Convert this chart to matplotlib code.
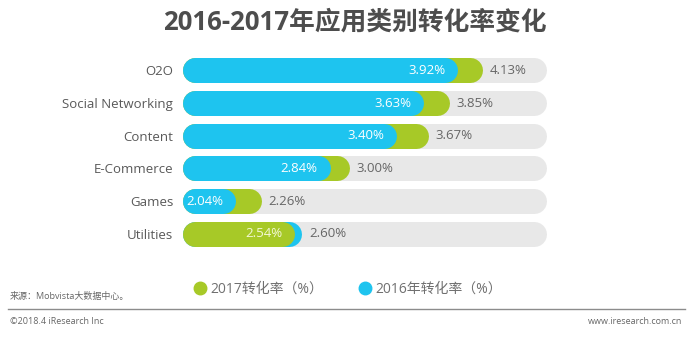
import matplotlib
matplotlib.use('Agg')
import matplotlib.pyplot as plt
from matplotlib.lines import Line2D

plt.rcParams['font.family'] = ['Open Sans', 'Noto Sans CJK SC', 'DejaVu Sans']

categories = ['O2O', 'Social Networking', 'Content', 'E-Commerce', 'Games', 'Utilities']
rate_2016 = [3.92, 3.63, 3.40, 2.84, 2.04, 2.60]
rate_2017 = [4.13, 3.85, 3.67, 3.00, 2.26, 2.54]
legend_labels = ['2017转化率（%）', '2016年转化率（%）']
title = '2016-2017年应用类别转化率变化'

BLUE = '#1ec4ef'
GREEN = '#a7c927'
TRACK = '#e8e8e8'
TEXT = '#666666'

W, H = 700, 342
fig = plt.figure(figsize=(W / 100, H / 100), dpi=100)

# bar area in pixels: x 183..560, rows between y 54 and 250 (from top)
ax = fig.add_axes([183 / W, 1 - 250 / H, (560 - 183) / W, (250 - 54) / H])
bar_start = 1.8
track_end = 4.67
lw = 18  # points, about 25 px thick bars

for i, (a, b) in enumerate(zip(rate_2016, rate_2017)):
    ax.plot([bar_start, track_end], [i, i], color=TRACK, lw=lw,
            solid_capstyle='round', zorder=1)
    # longer bar at the back, shorter one on top
    if b >= a:
        back, front = (b, GREEN), (a, BLUE)
    else:
        back, front = (a, BLUE), (b, GREEN)
    ax.plot([bar_start, back[0]], [i, i], color=back[1], lw=lw,
            solid_capstyle='round', zorder=2)
    ax.plot([bar_start, front[0]], [i, i], color=front[1], lw=lw,
            solid_capstyle='round', zorder=3)
    inner = 'white' if front[1] == BLUE else '#f4f8d8'
    ax.annotate(f'{front[0]:.2f}%', xy=(front[0], i), xytext=(0, 0),
                textcoords='offset points', ha='right', va='center',
                color=inner, fontsize=9.5, zorder=4)
    ax.annotate(f'{back[0]:.2f}%', xy=(back[0], i), xytext=(14, 0),
                textcoords='offset points', ha='left', va='center',
                color=TEXT, fontsize=9.5, zorder=4)

ax.set_xlim(1.698, 4.893)
ax.set_ylim(5.5, -0.5)
ax.set_yticks(range(len(categories)), categories)
ax.tick_params(axis='y', length=0, pad=7, labelsize=9.5, labelcolor='#595959')
ax.set_xticks([])
for s in ax.spines.values():
    s.set_visible(False)
ax.patch.set_alpha(0)

fig.text(355 / W, 1 - 22 / H, title, ha='center', va='center',
         fontsize=18.5, fontweight='bold', color='#4d4d4d')

handles = [Line2D([], [], ls='', marker='o', markersize=9, color=GREEN),
           Line2D([], [], ls='', marker='o', markersize=9, color=BLUE)]
fig.legend(handles, legend_labels, loc='center', ncol=2, frameon=False,
           bbox_to_anchor=(348 / W, 1 - 289 / H), fontsize=10,
           handlelength=0.8, handletextpad=0.35, columnspacing=2.6,
           labelcolor='#707070')

fig.text(10 / W, 1 - 296 / H, '来源：Mobvista大数据中心。', fontsize=6.5,
         color='#666666', va='center')
fig.add_artist(Line2D([8 / W, 685 / W], [1 - 309 / H] * 2,
                      color='#8c8c8c', lw=1))
fig.text(10 / W, 1 - 322 / H, '©2018.4 iResearch Inc', fontsize=6.5,
         color='#666666', va='center')
fig.text(682 / W, 1 - 322 / H, 'www.iresearch.com.cn', fontsize=6.5,
         color='#666666', va='center', ha='right')

fig.savefig('out.png', dpi=100, facecolor='white')
